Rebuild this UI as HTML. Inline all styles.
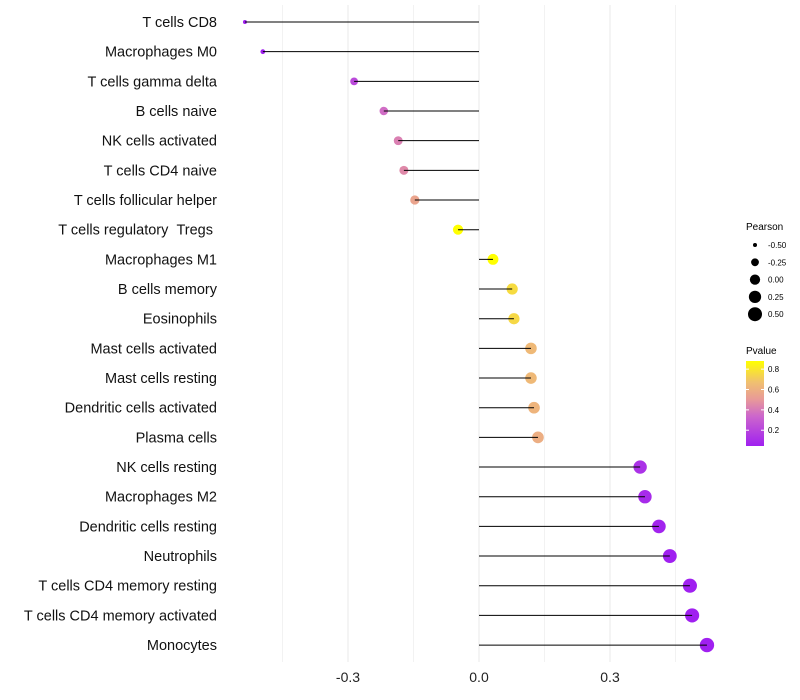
<!DOCTYPE html>
<html><head><meta charset="utf-8"><style>
html,body{margin:0;padding:0;background:#fff;}
svg{display:block;font-family:"Liberation Sans",sans-serif;}
</style></head><body>
<svg id="chart" width="800" height="700" xmlns="http://www.w3.org/2000/svg">
<defs><linearGradient id="pg" x1="0" y1="1" x2="0" y2="0">
<stop offset="0" stop-color="#a020f0"/><stop offset="0.35" stop-color="#cc66cc"/><stop offset="0.55" stop-color="#e89a98"/><stop offset="0.75" stop-color="#f0c070"/><stop offset="1" stop-color="#ffff00"/>
</linearGradient></defs>
<g id="grid"></g>
<g id="marks"></g>
<g id="labels"></g>
<g id="xticks"></g>
<g id="sizeLeg">
<text x="746" y="230" font-size="10" fill="#000">Pearson</text>
</g>
<g>
<text x="746" y="354" font-size="10" fill="#000">Pvalue</text>
<rect x="746" y="361" width="18" height="85" fill="url(#pg)"/>
<g id="cbTicks"></g>
</g>
</svg>
<script>
const categories=["T cells CD8","Macrophages M0","T cells gamma delta","B cells naive","NK cells activated","T cells CD4 naive","T cells follicular helper","T cells regulatory \u00a0Tregs\u00a0","Macrophages M1","B cells memory","Eosinophils","Mast cells activated","Mast cells resting","Dendritic cells activated","Plasma cells","NK cells resting","Macrophages M2","Dendritic cells resting","Neutrophils","T cells CD4 memory resting","T cells CD4 memory activated","Monocytes"];
const pearson=[-0.536,-0.495,-0.286,-0.218,-0.185,-0.172,-0.147,-0.048,0.032,0.076,0.080,0.119,0.119,0.126,0.135,0.369,0.380,0.412,0.437,0.483,0.488,0.522];
const pvalue=[0.01,0.02,0.22,0.36,0.42,0.45,0.55,0.88,0.88,0.76,0.75,0.64,0.64,0.62,0.59,0.12,0.09,0.06,0.04,0.03,0.03,0.02];
const xTicks=[-0.3,0.0,0.3];
const xTickLabels=["-0.3","0.0","0.3"];
const minorTicks=[-0.45,-0.15,0.15,0.45];
const sizeLegendValues=[-0.5,-0.25,0,0.25,0.5];
const sizeLegendLabels=["-0.50","-0.25","0.00","0.25","0.50"];
const cbValues=[0.2,0.4,0.6,0.8];
const cbLabels=["0.2","0.4","0.6","0.8"];
const NS="http://www.w3.org/2000/svg";
const x=v=>479+v*436.7;
const y=i=>22+i*29.67;
const r=v=>Math.sqrt(Math.max(4,28+45*v));
const pMin=0.045,pMax=0.88;
const cy=p=>446-(p-pMin)/(pMax-pMin)*85;
function lerp(a,b,t){return a+(b-a)*t;}
const stops=[[0,[160,32,240]],[0.35,[204,102,204]],[0.55,[232,154,152]],[0.75,[240,192,112]],[1,[255,255,0]]];
function col(p){let t=Math.max(0,Math.min(1,(p-pMin)/(pMax-pMin)));for(let k=1;k<stops.length;k++){if(t<=stops[k][0]){const a=stops[k-1],b=stops[k];const u=(t-a[0])/(b[0]-a[0]);return `rgb(${[0,1,2].map(j=>Math.round(lerp(a[1][j],b[1][j],u))).join(',')})`;}}return 'rgb(255,255,0)';}
function mk(tag,attrs,parent){const e=document.createElementNS(NS,tag);for(const k in attrs)e.setAttribute(k,attrs[k]);parent.appendChild(e);return e;}
const grid=document.getElementById('grid'),marks=document.getElementById('marks'),labels=document.getElementById('labels'),xt=document.getElementById('xticks');
minorTicks.forEach(v=>{const l=mk('line',{x1:x(v),x2:x(v),y1:5,y2:662,stroke:'#f2f2f2','stroke-width':1},grid);});
xTicks.forEach((v,i)=>{const l=mk('line',{x1:x(v),x2:x(v),y1:5,y2:662,stroke:'#e8e8e8','stroke-width':1},grid);
const t=mk('text',{x:x(v),y:682,'font-size':14,'text-anchor':'middle',fill:'#222'},xt);t.textContent=xTickLabels[i];});
categories.forEach((c,i)=>{
const p=mk('circle',{cx:x(pearson[i]),cy:y(i),r:r(pearson[i]),fill:col(pvalue[i])},marks);
const s=mk('line',{x1:x(0),x2:x(pearson[i]),y1:y(i),y2:y(i),stroke:'#000','stroke-width':1},marks);
const t=mk('text',{x:217,y:y(i)+5,'font-size':14.5,'text-anchor':'end',fill:'#111'},labels);t.textContent=c;
});
const sl=document.getElementById('sizeLeg');
sizeLegendValues.forEach((v,i)=>{const yy=245+i*17.3;
const c=mk('circle',{cx:755,cy:yy,r:Math.sqrt(26.5+45*v),fill:'#000'},sl);
const t=mk('text',{x:768,y:yy+3,'font-size':8,fill:'#000'},sl);t.textContent=sizeLegendLabels[i];});
const cb=document.getElementById('cbTicks');
cbValues.forEach((v,i)=>{const yy=cy(v);
const a=mk('line',{x1:746,x2:749,y1:yy,y2:yy,stroke:'#fff','stroke-width':1},cb);
const b=mk('line',{x1:761,x2:764,y1:yy,y2:yy,stroke:'#fff','stroke-width':1},cb);
const t=mk('text',{x:768,y:yy+3,'font-size':8,fill:'#000'},cb);t.textContent=cbLabels[i];});
</script>
</body></html>
